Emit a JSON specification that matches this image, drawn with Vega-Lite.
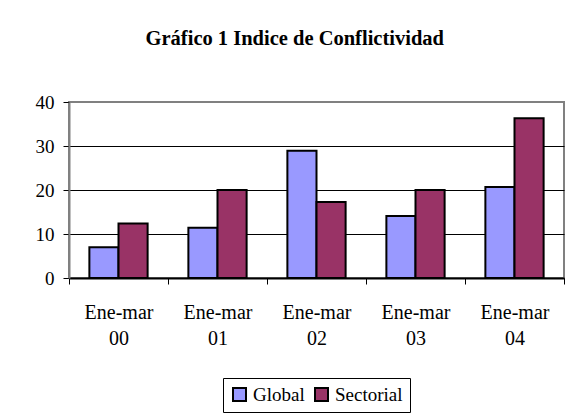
{
  "$schema": "https://vega.github.io/schema/vega-lite/v6.json",
  "width": 495,
  "height": 176,
  "autosize": "none",
  "padding": {"left": 69, "top": 102, "right": 7, "bottom": 140},
  "background": "white",
  "title": {
    "text": "Gráfico 1 Indice de Conflictividad",
    "font": "Times New Roman, Liberation Serif, serif",
    "fontSize": 20.5,
    "fontWeight": "bold",
    "color": "black",
    "anchor": "middle",
    "frame": "bounds",
    "offset": 44,
    "dx": -5
  },
  "config": {
    "font": "Times New Roman, Liberation Serif, serif",
    "view": {"stroke": "#808080", "strokeWidth": 2},
    "legend": {"layout": {"bottom": {"anchor": "middle"}}}
  },
  "data": {
    "values": [
      {"periodo": "Ene-mar 00", "serie": "Global", "valor": 7.0},
      {"periodo": "Ene-mar 00", "serie": "Sectorial", "valor": 12.4},
      {"periodo": "Ene-mar 01", "serie": "Global", "valor": 11.4},
      {"periodo": "Ene-mar 01", "serie": "Sectorial", "valor": 20.0},
      {"periodo": "Ene-mar 02", "serie": "Global", "valor": 28.9},
      {"periodo": "Ene-mar 02", "serie": "Sectorial", "valor": 17.3},
      {"periodo": "Ene-mar 03", "serie": "Global", "valor": 14.1},
      {"periodo": "Ene-mar 03", "serie": "Sectorial", "valor": 20.0},
      {"periodo": "Ene-mar 04", "serie": "Global", "valor": 20.7},
      {"periodo": "Ene-mar 04", "serie": "Sectorial", "valor": 36.3}
    ]
  },
  "mark": {"type": "bar", "stroke": "black", "strokeWidth": 2},
  "encoding": {
    "x": {
      "field": "periodo",
      "type": "nominal",
      "title": null,
      "scale": {"paddingInner": 0, "paddingOuter": 0},
      "axis": {
        "labelAngle": 0,
        "labelExpr": "split(datum.label, ' ')",
        "labelFont": "Times New Roman, Liberation Serif, serif",
        "labelFontSize": 20,
        "labelColor": "black",
        "labelLineHeight": 26,
        "labelPadding": 18,
        "tickBand": "extent",
        "tickColor": "black",
        "tickSize": 6,
        "domainColor": "black",
        "domainWidth": 2,
        "grid": false
      }
    },
    "xOffset": {
      "field": "serie",
      "type": "nominal",
      "scale": {"paddingOuter": 0.7, "paddingInner": 0}
    },
    "y": {
      "field": "valor",
      "type": "quantitative",
      "title": null,
      "scale": {"domain": [0, 40]},
      "axis": {
        "values": [0, 10, 20, 30, 40],
        "labelFont": "Times New Roman, Liberation Serif, serif",
        "labelFontSize": 19,
        "labelColor": "black",
        "labelPadding": 9,
        "tickColor": "black",
        "tickSize": 6,
        "domainColor": "#808080",
        "domainWidth": 2,
        "grid": true,
        "gridColor": {"condition": {"test": "datum.value == 40", "value": "#808080"}, "value": "black"},
        "gridWidth": 1
      }
    },
    "fill": {
      "field": "serie",
      "type": "nominal",
      "scale": {"domain": ["Global", "Sectorial"], "range": ["#9999FF", "#993366"]},
      "legend": {
        "title": null,
        "orient": "bottom",
        "direction": "horizontal",
        "offset": 30,
        "padding": 7,
        "strokeColor": "black",
        "symbolType": "square",
        "symbolSize": 169,
        "symbolStrokeColor": "black",
        "symbolStrokeWidth": 2,
        "symbolOpacity": 1,
        "labelFont": "Times New Roman, Liberation Serif, serif",
        "labelFontSize": 19,
        "labelColor": "black",
        "labelOffset": 4,
        "columnPadding": 6
      }
    }
  }
}
